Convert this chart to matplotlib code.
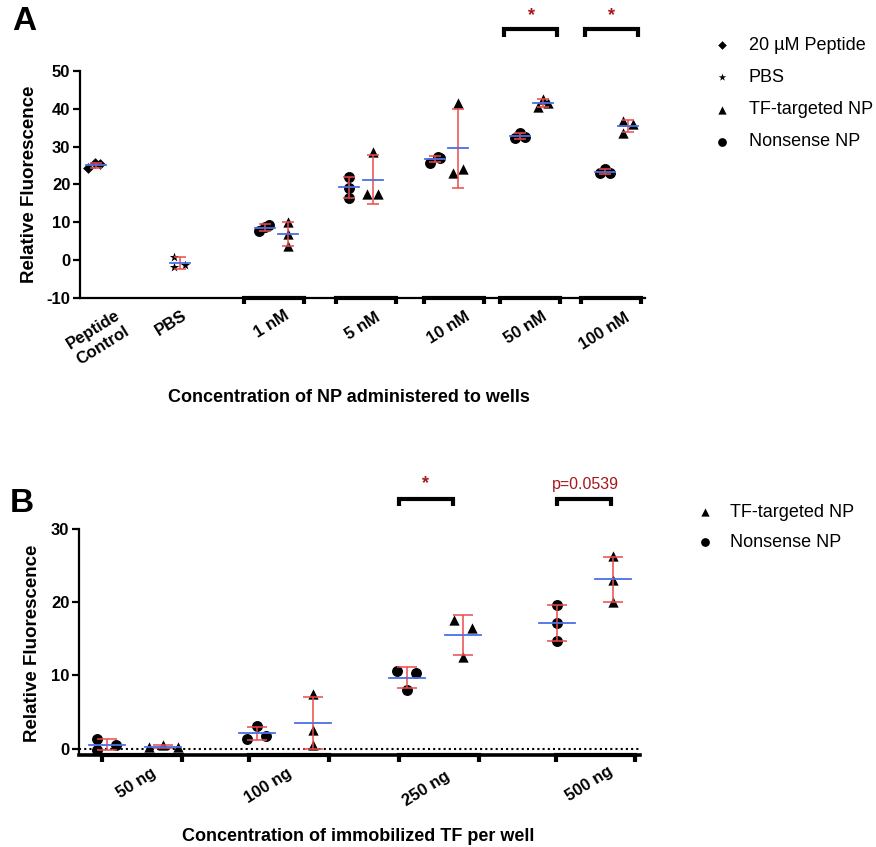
import numpy as np
import matplotlib
matplotlib.use("Agg")
import matplotlib.pyplot as plt
import matplotlib.transforms as mtransforms

plt.rcParams['font.family'] = ['Liberation Sans', 'DejaVu Sans']
plt.rcParams['axes.unicode_minus'] = False

RED = "#ee4a4a"
BLUE = "#4a70e6"
SIG = "#a3191c"

# ---------------- data, panel A ----------------
a_labels = ["Peptide\nControl", "PBS", "1 nM", "5 nM", "10 nM", "50 nM", "100 nM"]
a_centers = [15, 100, 194, 286, 374, 450, 531]

peptide_vals = [24.3, 25.6, 25.4]
pbs_vals = [0.9, -1.9, -1.3]
a_nonsense = [[7.7, 9.4, 8.7], [22.1, 19.2, 16.4], [25.7, 27.3, 27.1],
              [32.3, 33.6, 32.5], [23.0, 24.1, 23.0]]
a_targeted = [[10.0, 7.0, 3.8], [28.7, 17.5, 17.5], [41.5, 23.0, 24.1],
              [40.5, 42.6, 41.5], [36.8, 33.6, 36.0]]

# x placement (axis units) of each series column and of its points
peptide_x, peptide_jit = 16, [-8, -1, 4]
pbs_x, pbs_jit = 100, [-6, -6, 5]
a_ns_x = [185, 269, 355, 440, 525]
a_ns_jit = [[-6, 4, 0], [0, 0, 0], [-5, 3, 5], [-5, 0, 5], [-5, 0, 5]]
a_tf_x = [208, 293, 378, 463, 548]
a_tf_jit = [[0, 0, 0], [0, -6, 5], [0, -5, 5], [-5, 0, 5], [-5, -5, 5]]
# label centres: x in axis units, y in axes fraction
a_lab_x = [18, 91.5, 191.5, 283, 369, 446, 524]
a_lab_y = [-0.176, -0.112, -0.117, -0.123, -0.132, -0.132, -0.145]

# ---------------- data, panel B ----------------
b_labels = ["50 ng", "100 ng", "250 ng", "500 ng"]
b_centers = [63, 210, 360.5, 516.5]
b_nonsense = [[1.3, -0.2, 0.46], [1.37, 3.15, 1.74], [10.67, 10.4, 8.03], [19.66, 17.15, 14.7]]
b_targeted = [[0.2, 0.5, 0.2], [7.44, 2.56, 0.5], [17.6, 16.5, 12.5], [26.26, 22.98, 20.1]]
b_ns_x = [28, 178, 328, 478]
b_ns_jit = [[-10, -10, 9], [-10, 0, 9], [-10, 9, 0], [0, 0, 0]]
b_tf_x = [84, 234, 384, 534]
b_tf_jit = [[-14, 0, 15], [0, 0, 0], [-9, 9, 0], [0, 0, 0]]
b_lab_x = [57.5, 189, 347, 510]
b_lab_y = [-0.122, -0.133, -0.148, -0.124]


def column(ax, x, jit, vals, marker, size, half, cap, label=None):
    vals = np.array(vals)
    m = vals.mean()
    sd = vals.std(ddof=1)
    ax.scatter(np.array(jit) + x, vals, marker=marker, s=size, color="black",
               zorder=3, label=label, linewidths=0)
    ax.errorbar([x], [m], yerr=[sd], fmt="none", ecolor=RED, elinewidth=1.1,
                capsize=cap, capthick=1.1, zorder=4)
    ax.plot([x - half, x + half], [m, m], color=BLUE, lw=1.3, zorder=5)


def bracket(ax, x0, x1, y, drop, lw):
    ax.plot([x0, x0, x1, x1], [y - drop, y, y, y - drop], color="black", lw=lw,
            clip_on=False, solid_joinstyle="miter", solid_capstyle="butt")


def xlabels(ax, xs, ys, labels):
    trans = mtransforms.blended_transform_factory(ax.transData, ax.transAxes)
    for x, y, lab in zip(xs, ys, labels):
        ax.text(x, y, lab, transform=trans, rotation=32, ha="center", va="center",
                rotation_mode="anchor", fontsize=12, fontweight="bold",
                linespacing=1.3, clip_on=False)
    ax.set_xticks([])


fig = plt.figure(figsize=(8.76, 8.47), dpi=100)

# ---------------- panel A ----------------
axA = fig.add_axes([80 / 876, 1 - 298 / 847, 565 / 876, 227 / 847])
column(axA, peptide_x, peptide_jit, peptide_vals, "D", 30, 10, 4.3, "20 µM Peptide")
column(axA, pbs_x, pbs_jit, pbs_vals, "*", 50, 10, 4.3, "PBS")
for i in range(5):
    column(axA, a_tf_x[i], a_tf_jit[i], a_targeted[i], "^", 55, 10, 4.3,
           "TF-targeted NP" if i == 0 else None)
    column(axA, a_ns_x[i], a_ns_jit[i], a_nonsense[i], "o", 62, 10, 4.3,
           "Nonsense NP" if i == 0 else None)

axA.set_xlim(0, 565)
axA.set_ylim(-10, 50)
axA.set_yticks(np.arange(-10, 51, 10))
for c in a_centers[2:]:
    bracket(axA, c - 30, c + 30, -10, 1.7, 3)
for i in (3, 4):
    c = a_centers[i + 2]
    bracket(axA, c - 26, c + 27, 61.1, 2.1, 3)
    axA.text(c + 1, 62.4, "*", color=SIG, ha="center", va="bottom",
             fontsize=13, fontweight="bold", clip_on=False)

xlabels(axA, a_lab_x, a_lab_y, a_labels)
axA.set_xlabel("Concentration of NP administered to wells", fontsize=13,
               fontweight="bold", va="center")
axA.xaxis.set_label_coords(0.476, -0.44)
axA.set_ylabel("Relative Fluorescence", fontsize=13.5, fontweight="bold", va="center")
axA.yaxis.set_label_coords(-0.089, 0.502)

hA, lA = axA.get_legend_handles_labels()
order = [lA.index(n) for n in ["20 µM Peptide", "PBS", "TF-targeted NP", "Nonsense NP"]]
fig.legend([hA[k] for k in order], [lA[k] for k in order],
           loc="upper left", bbox_to_anchor=(708 / 876, 1 - 37 / 847),
           frameon=False, borderpad=0, borderaxespad=0, handlelength=1.6,
           handletextpad=0.65, labelspacing=0.84, prop={"size": 13}, markerscale=0.8)

# ---------------- panel B ----------------
axB = fig.add_axes([79 / 876, 1 - 755.3 / 847, 561 / 876, 226.3 / 847])
for i in range(4):
    column(axB, b_tf_x[i], b_tf_jit[i], b_targeted[i], "^", 55, 18, 7.2,
           "TF-targeted NP" if i == 0 else None)
    column(axB, b_ns_x[i], b_ns_jit[i], b_nonsense[i], "o", 62, 18, 7.2,
           "Nonsense NP" if i == 0 else None)
axB.axhline(0, color="black", lw=1.5, ls=(0, (1, 1.5)), zorder=1)
axB.set_xlim(0, 561)
axB.set_ylim(-0.9, 30)
axB.set_yticks([0, 10, 20, 30])
for c in b_centers:
    bracket(axB, c - 40, c + 40, -0.9, 0.85, 3)
bracket(axB, 320, 374, 34.1, 1.0, 3)
axB.text(347, 35.0, "*", color=SIG, ha="center", va="bottom",
         fontsize=13, fontweight="bold", clip_on=False)
bracket(axB, 478, 532, 34.1, 1.0, 3)
axB.text(506, 35.0, "p=0.0539", color=SIG, ha="center", va="bottom",
         fontsize=11.5, clip_on=False)

xlabels(axB, b_lab_x, b_lab_y, b_labels)
axB.set_xlabel("Concentration of immobilized TF per well", fontsize=13,
               fontweight="bold", va="center")
axB.xaxis.set_label_coords(0.497, -0.357)
axB.set_ylabel("Relative Fluorescence", fontsize=13.5, fontweight="bold", va="center")
axB.yaxis.set_label_coords(-0.082, 0.496)

hB, lB = axB.get_legend_handles_labels()
fig.legend(hB, lB, loc="upper left", bbox_to_anchor=(691 / 876, 1 - 504 / 847),
           frameon=False, borderpad=0, borderaxespad=0, handlelength=1.6,
           handletextpad=0.55, labelspacing=0.71, prop={"size": 13}, markerscale=0.8)

for ax in (axA, axB):
    for s in ("top", "right"):
        ax.spines[s].set_visible(False)
    ax.spines["left"].set_linewidth(1.6)
    ax.spines["bottom"].set_linewidth(1.6)
    ax.tick_params(axis="y", width=1.6, length=5, labelsize=12, pad=2)
    for lab in ax.get_yticklabels():
        lab.set_fontweight("bold")
axB.spines["bottom"].set_linewidth(2.6)

fig.text(12 / 876, 1 - 21 / 847, "A", fontsize=24, fontweight="bold", va="center")
fig.text(10 / 876, 1 - 503 / 847, "B", fontsize=24, fontweight="bold", va="center")

fig.savefig("out.png", dpi=100)
